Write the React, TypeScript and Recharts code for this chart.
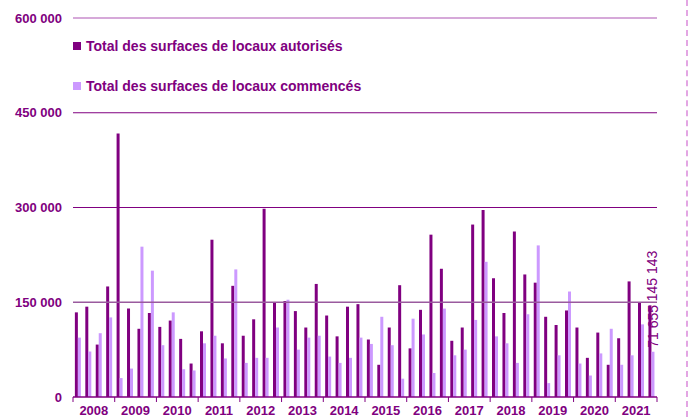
import React from 'react';
import { BarChart, Bar, XAxis, YAxis, ReferenceLine, LabelList } from 'recharts';

const years = [2008, 2009, 2010, 2011, 2012, 2013, 2014, 2015, 2016, 2017, 2018, 2019, 2020, 2021];

const autorises = [
  134000, 143000, 83000, 175000,
  417000, 140000, 108000, 133000,
  111000, 121000, 92000, 53000,
  104000, 249000, 85000, 176000,
  97000, 123000, 298000, 149000,
  152000, 136000, 110000, 179000,
  129000, 96000, 143000, 147000,
  91000, 51000, 110000, 177000,
  77000, 138000, 257000, 203000,
  89000, 110000, 273000, 296000,
  188000, 133000, 262000, 194000,
  181000, 127000, 114000, 137000,
  110000, 62000, 102000, 51000,
  93000, 183000, 149000, 145143,
];

const commences = [
  94000, 72000, 101000, 126000,
  30000, 45000, 238000, 200000,
  82000, 134000, 44000, 42000,
  85000, 97000, 61000, 202000,
  54000, 62000, 62000, 110000,
  154000, 75000, 94000, 97000,
  64000, 54000, 62000, 94000,
  84000, 127000, 82000, 29000,
  124000, 99000, 38000, 140000,
  66000, 75000, 122000, 214000,
  96000, 85000, 54000, 131000,
  240000, 22000, 66000, 167000,
  53000, 34000, 69000, 108000,
  51000, 66000, 115000, 71655,
];

const yTicks = [0, 150000, 300000, 450000, 600000];

const data = autorises.map((v, i) => ({
  key: `${years[Math.floor(i / 4)]}-${(i % 4) + 1}`,
  autorises: v,
  commences: commences[i],
}));

const W = 689;
const H = 417;
const LEFT = 73;
const RIGHT = 657;
const TOP = 18;
const BOTTOM = 397;
const BAND = (RIGHT - LEFT) / data.length;
const LAST = data.length - 1;

const PURPLE = '#800080';
const LILAC = '#cc99ff';
const FONT = '"Liberation Sans", Arial, sans-serif';

const fmt = (v: number) => (v === 0 ? '0' : v.toLocaleString('en-US').replace(/,/g, ' '));

const YearTick = (props: any) => {
  const { x, payload } = props;
  const [yr, q] = String(payload.value).split('-');
  if (q === '1') {
    return (
      <g>
        <line x1={x - BAND / 2} x2={x - BAND / 2} y1={BOTTOM} y2={BOTTOM + 5} stroke={PURPLE} />
        <text x={x + BAND * 1.5} y={BOTTOM + 18} textAnchor="middle" fill={PURPLE}
          fontFamily={FONT} fontWeight="bold" fontSize={13}>{yr}</text>
      </g>
    );
  }
  if (payload.index === LAST || (yr === '2021' && q === '4')) {
    return <line x1={x + BAND / 2} x2={x + BAND / 2} y1={BOTTOM} y2={BOTTOM + 5} stroke={PURPLE} />;
  }
  return <g />;
};

const lastLabel = (dx: number) => (props: any) => {
  const { x, y, width, value, index } = props;
  if (index !== LAST) return null;
  const cx = x + width / 2 + dx;
  const cy = y - 4;
  return (
    <text x={cx} y={cy} transform={`rotate(-90 ${cx} ${cy})`} fill={PURPLE}
      fontFamily={FONT} fontSize={14}>{fmt(value)}</text>
  );
};

const legendItems = [
  { label: 'Total des surfaces de locaux autorisés', color: PURPLE, top: 38 },
  { label: 'Total des surfaces de locaux commencés', color: LILAC, top: 78 },
];

export default function App() {
  return (
    <div style={{ position: 'absolute', left: 0, top: 0, width: W, height: H, background: '#fff' }}>
      <BarChart
        width={W}
        height={H}
        data={data}
        margin={{ top: TOP, right: W - RIGHT, bottom: 0, left: 0 }}
        barCategoryGap="18%"
        barGap={0}
      >
        <ReferenceLine y={600000} stroke="#c98ccc" strokeWidth={1.5} />
        <ReferenceLine y={450000} stroke={PURPLE} />
        <ReferenceLine y={300000} stroke={PURPLE} />
        <ReferenceLine y={150000} stroke="#9a5a9e" strokeWidth={1.5} />
        <XAxis
          dataKey="key"
          interval={0}
          height={H - BOTTOM}
          tickLine={false}
          axisLine={{ stroke: PURPLE, strokeWidth: 1.5 }}
          tick={YearTick}
        />
        <YAxis
          domain={[0, 600000]}
          ticks={yTicks}
          width={LEFT}
          axisLine={false}
          tickLine={false}
          tickSize={0}
          tickMargin={11}
          tickFormatter={fmt}
          tick={{ fill: PURPLE, fontFamily: FONT, fontWeight: 'bold', fontSize: 13 }}
        />
        <Bar dataKey="autorises" fill={PURPLE} isAnimationActive={false}>
          <LabelList dataKey="autorises" content={lastLabel(7)} />
        </Bar>
        <Bar dataKey="commences" fill={LILAC} isAnimationActive={false}>
          <LabelList dataKey="commences" content={lastLabel(5)} />
        </Bar>
      </BarChart>
      {legendItems.map((it) => (
        <div key={it.label} style={{ position: 'absolute', left: 73, top: it.top, display: 'flex', alignItems: 'center' }}>
          <span style={{ display: 'inline-block', width: 8, height: 8, background: it.color, marginRight: 5 }} />
          <span style={{ color: PURPLE, fontFamily: FONT, fontWeight: 'bold', fontSize: 14, lineHeight: '16px' }}>
            {it.label}
          </span>
        </div>
      ))}
      <div style={{ position: 'absolute', left: 686, top: 0, height: H, borderLeft: '2px dashed #e3a6e3' }} />
    </div>
  );
}
